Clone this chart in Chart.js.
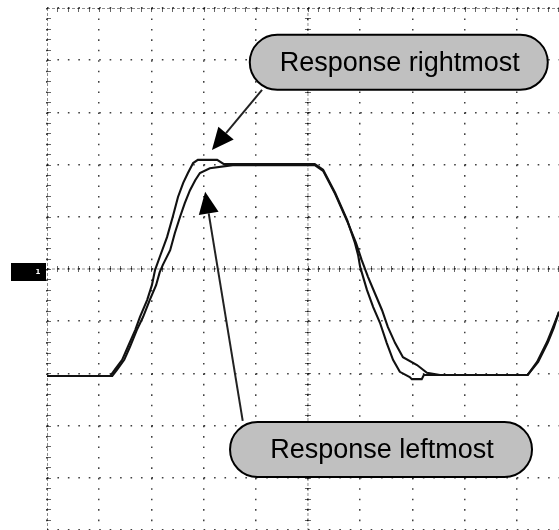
<!DOCTYPE html>
<html>
<head>
<meta charset="utf-8">
<script src="https://cdn.jsdelivr.net/npm/chart.js@4.4.1/dist/chart.umd.min.js"></script>
<style>
  html, body { margin: 0; padding: 0; background: #fff; overflow: hidden; }
  #wrap { position: relative; width: 559px; height: 530px; }
</style>
</head>
<body>
<div id="wrap"><canvas id="scope"></canvas></div>
<script>
// Trace values in screen divisions (x: time div, y: volts div).
const timeA = [0, 1.21, 1.3, 1.44, 1.55, 1.69, 1.78, 1.92, 2.01, 2.07, 2.16, 2.3, 2.41, 2.51, 2.61, 2.7,
  2.8, 2.89, 3.26, 3.39, 5.13, 5.29, 5.52, 5.75, 5.9, 5.96, 6.0, 6.13, 6.25, 6.38, 6.51, 6.63, 6.76,
  6.95, 6.99, 7.18, 7.22, 9.21, 9.39, 9.58, 9.69, 9.81];
const voltsA = [-2.05, -2.05, -1.93, -1.74, -1.49, -1.17, -0.92, -0.59, -0.31, -0.02, 0.23, 0.61, 1.0,
  1.38, 1.65, 1.84, 2.03, 2.09, 2.09, 2.01, 2.01, 1.9, 1.46, 0.94, 0.5, 0.27, 0.04, -0.4, -0.73, -1.03,
  -1.42, -1.74, -1.97, -2.07, -2.11, -2.11, -2.03, -2.03, -1.78, -1.4, -1.13, -0.82];

const timeB = [0, 1.25, 1.34, 1.48, 1.59, 1.72, 1.84, 1.97, 2.09, 2.16, 2.22, 2.36, 2.45, 2.55, 2.64,
  2.74, 2.84, 2.93, 3.12, 3.56, 5.13, 5.29, 5.52, 5.75, 5.92, 6.03, 6.15, 6.28, 6.42, 6.53, 6.67, 6.82,
  7.09, 7.28, 7.53, 9.21, 9.41, 9.6, 9.71, 9.81];
const voltsB = [-2.05, -2.05, -1.93, -1.74, -1.49, -1.17, -0.92, -0.59, -0.31, -0.06, 0.08, 0.36, 0.69,
  1.0, 1.26, 1.51, 1.7, 1.84, 1.93, 1.99, 1.99, 1.88, 1.44, 0.92, 0.5, 0.17, -0.15, -0.46, -0.79, -1.11,
  -1.42, -1.69, -1.84, -1.99, -2.03, -2.03, -1.78, -1.4, -1.13, -0.82];

const calloutLabels = ["Response rightmost", "Response leftmost"];
const channelLabel = "1";

const toPoints = (xs, ys) => xs.map((x, i) => ({ x, y: ys[i] }));

const scopeFramePlugin = {
  id: "scopeFrame",
  beforeDatasetsDraw(chart, _args, options) {
    const { ctx, chartArea } = chart;
    const xScale = chart.scales.x;
    const yScale = chart.scales.y;
    const step = options.minorStep;
    const cx = xScale.getPixelForValue(options.centerX);
    const cy = yScale.getPixelForValue(options.centerY);

    ctx.save();
    ctx.lineWidth = 1;

    // frame edges and centre axes, faint and broken like the scope graticule
    ctx.strokeStyle = options.lineColor;
    ctx.setLineDash([3, 2]);
    ctx.beginPath();
    ctx.moveTo(chartArea.left, chartArea.top + 0.5);
    ctx.lineTo(chartArea.right, chartArea.top + 0.5);
    ctx.moveTo(chartArea.left + 0.5, chartArea.top);
    ctx.lineTo(chartArea.left + 0.5, chartArea.bottom);
    ctx.moveTo(chartArea.left, cy);
    ctx.lineTo(chartArea.right, cy);
    ctx.moveTo(cx, chartArea.top);
    ctx.lineTo(cx, chartArea.bottom);
    ctx.stroke();
    ctx.setLineDash([]);

    ctx.strokeStyle = options.tickColor;
    ctx.beginPath();
    const xCount = Math.floor((xScale.max - xScale.min) / step + 0.001);
    for (let i = 1; i <= xCount; i += 1) {
      const px = Math.round(xScale.getPixelForValue(xScale.min + i * step)) + 0.5;
      ctx.moveTo(px, cy - 3);
      ctx.lineTo(px, cy + 3);
      ctx.moveTo(px, chartArea.top);
      ctx.lineTo(px, chartArea.top + 4);
    }
    const yCount = Math.floor((yScale.max - yScale.min) / step + 0.001);
    for (let i = 1; i < yCount; i += 1) {
      const py = Math.round(yScale.getPixelForValue(yScale.min + i * step)) + 0.5;
      ctx.moveTo(cx - 3, py);
      ctx.lineTo(cx + 3, py);
      ctx.moveTo(chartArea.left, py);
      ctx.lineTo(chartArea.left + 4, py);
    }
    ctx.stroke();
    ctx.restore();
  },
};

const channelMarkerPlugin = {
  id: "channelMarker",
  afterDraw(chart, _args, options) {
    const { ctx, chartArea } = chart;
    const py = chart.scales.y.getPixelForValue(options.level);
    ctx.save();
    ctx.fillStyle = "#000";
    ctx.fillRect(11, py - 6, chartArea.left - 12, 18);
    ctx.fillStyle = "#fff";
    ctx.font = "bold 7px 'DejaVu Sans', sans-serif";
    ctx.textAlign = "center";
    ctx.textBaseline = "middle";
    ctx.fillText(options.label, chartArea.left - 9, py + 3);
    ctx.restore();
  },
};

const calloutPlugin = {
  id: "callouts",
  afterDraw(chart, _args, options) {
    const { ctx } = chart;
    const xScale = chart.scales.x;
    const yScale = chart.scales.y;
    const items = options.items || [];

    ctx.save();
    items.forEach((item) => {
      const fx = xScale.getPixelForValue(item.from[0]);
      const fy = yScale.getPixelForValue(item.from[1]);
      const tx = xScale.getPixelForValue(item.tip[0]);
      const ty = yScale.getPixelForValue(item.tip[1]);
      const ang = Math.atan2(ty - fy, tx - fx);
      const headLen = 22;
      const headHalf = 10;
      const bx = tx - headLen * Math.cos(ang);
      const by = ty - headLen * Math.sin(ang);

      ctx.strokeStyle = "#222";
      ctx.lineWidth = 2;
      ctx.beginPath();
      ctx.moveTo(fx, fy);
      ctx.lineTo(bx, by);
      ctx.stroke();

      ctx.fillStyle = "#000";
      ctx.beginPath();
      ctx.moveTo(tx, ty);
      ctx.lineTo(bx - headHalf * Math.sin(ang), by + headHalf * Math.cos(ang));
      ctx.lineTo(bx + headHalf * Math.sin(ang), by - headHalf * Math.cos(ang));
      ctx.closePath();
      ctx.fill();
    });

    items.forEach((item) => {
      const cx = xScale.getPixelForValue(item.center[0]);
      const cy = yScale.getPixelForValue(item.center[1]);
      const w = item.width;
      const h = item.height;
      const r = h / 2;
      const left = cx - w / 2;
      const top = cy - h / 2;

      ctx.beginPath();
      ctx.moveTo(left + r, top);
      ctx.lineTo(left + w - r, top);
      ctx.arc(left + w - r, cy, r, -Math.PI / 2, Math.PI / 2);
      ctx.lineTo(left + r, top + h);
      ctx.arc(left + r, cy, r, Math.PI / 2, Math.PI * 1.5);
      ctx.closePath();
      ctx.fillStyle = "#c0c0c0";
      ctx.fill();
      ctx.strokeStyle = "#000";
      ctx.lineWidth = 2;
      ctx.stroke();

      ctx.fillStyle = "#000";
      ctx.font = "27px 'Liberation Sans', Arial, sans-serif";
      ctx.textAlign = "center";
      ctx.textBaseline = "middle";
      ctx.fillText(item.label, cx + 1, cy + 1);
    });
    ctx.restore();
  },
};

const traceStyle = {
  borderColor: "#111",
  backgroundColor: "transparent",
  borderWidth: 2.1,
  pointRadius: 0,
  tension: 0,
  fill: false,
};

new Chart(document.getElementById("scope").getContext("2d"), {
  type: "line",
  plugins: [scopeFramePlugin, channelMarkerPlugin, calloutPlugin],
  data: {
    datasets: [
      { label: calloutLabels[0], data: toPoints(timeA, voltsA), ...traceStyle },
      { label: calloutLabels[1], data: toPoints(timeB, voltsB), ...traceStyle },
    ],
  },
  options: {
    responsive: true,
    maintainAspectRatio: false,
    animation: false,
    layout: { padding: { top: 8, left: 47, right: 0, bottom: 0 } },
    plugins: {
      legend: { display: false },
      tooltip: { enabled: false },
      scopeFrame: {
        minorStep: 0.2,
        centerX: 5,
        centerY: 0,
        lineColor: "rgba(0, 0, 0, 0.45)",
        tickColor: "rgba(0, 0, 0, 0.6)",
      },
      channelMarker: { level: 0, label: channelLabel },
      callouts: {
        items: [
          { label: calloutLabels[0], center: [6.74, 3.96], width: 298, height: 55,
            from: [4.12, 3.43], tip: [3.16, 2.28] },
          { label: calloutLabels[1], center: [6.4, -3.46], width: 302, height: 55,
            from: [3.75, -2.91], tip: [3.03, 1.48] },
        ],
      },
    },
    scales: {
      x: {
        type: "linear",
        min: 0,
        max: 9.81,
        ticks: { display: false, stepSize: 1, includeBounds: false },
        grid: { color: "rgba(0, 0, 0, 0.75)", lineWidth: 1.5, drawTicks: false },
        border: { display: false, dash: [1.6, 8.84] },
      },
      y: {
        type: "linear",
        min: -5,
        max: 5,
        ticks: { display: false, stepSize: 1 },
        grid: { color: "rgba(0, 0, 0, 0.75)", lineWidth: 1.5, drawTicks: false },
        border: { display: false, dash: [1.6, 8.84] },
      },
    },
  },
});
</script>
</body>
</html>
